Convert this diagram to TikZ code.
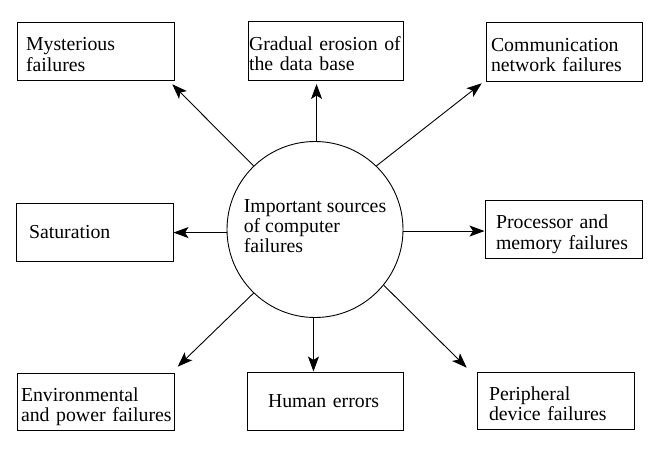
\documentclass[tikz,border=0pt]{standalone}
\usepackage{fontspec}
\setmainfont{Liberation Serif}
\usetikzlibrary{arrows.meta}
\newcommand\tstrut{\rule{0pt}{25pt}}
\newcommand\bstrut{\rule[-5pt]{0pt}{5pt}}
\newcommand\cstrut{\rule[-6.7pt]{0pt}{6.7pt}}
\tikzset{
  bx/.style n args={3}{draw, line width=1pt, rectangle, align=left,
    minimum height=#2, text width=#1, inner xsep=#3, inner ysep=0pt,
    font=\fontsize{19.8}{20.5}\selectfont},
  hub/.style={draw, line width=0.9pt, circle, minimum size=176pt, inner sep=0pt,
    align=left, font=\fontsize{19.8}{20}\selectfont},
  arr/.style={line width=0.9pt, -{Stealth[length=15pt,width=11pt,inset=3.5pt]}}
}
\begin{document}
\begin{tikzpicture}[x=1pt,y=-1pt]
\useasboundingbox (0,0) rectangle (656,450);
\node[hub] (c) at (315,229.5) {Important sources\\of computer\\failures\cstrut};
\node[bx={139pt}{58pt}{9pt}] (m) at (95.5,51) {\mbox{\tstrut Mysterious}\\\mbox{failures\bstrut}};
\node[bx={153pt}{59pt}{1pt}] (g) at (325.5,50.5) {\mbox{\tstrut Gradual erosion of}\\\mbox{the data base\bstrut}};
\node[bx={146pt}{59pt}{5pt}] (cm) at (564,51.5) {\mbox{\tstrut Communication}\\\mbox{network failures\bstrut}};
\node[bx={131pt}{58pt}{13pt}] (s) at (94.5,232) {Saturation};
\node[bx={135pt}{58pt}{11pt}] (p) at (563.5,229) {\mbox{\tstrut Processor and}\\\mbox{memory failures\bstrut}};
\node[bx={149pt}{57pt}{4pt}] (e) at (95.5,401.5) {\mbox{\tstrut Environmental}\\\mbox{and power failures\bstrut}};
\node[bx={114pt}{58pt}{21pt}] (h) at (325,401) {Human errors};
\node[bx={133pt}{57pt}{12pt}] (pe) at (555.5,400.5) {\mbox{\tstrut Peripheral}\\\mbox{device failures\bstrut}};
\coordinate (tm) at (172.3,84.3);
\coordinate (tc) at (481.7,83.3);
\coordinate (te) at (177.7,366.7);
\coordinate (tp) at (466.7,367.7);
\draw[arr] (c.134) -- (tm);
\draw[arr] (c.46) -- (tc);
\draw[arr] (c.226) -- (te);
\draw[arr] (c.321) -- (tp);
\draw[arr, shorten >=3.5pt] (c.89) -- (c.89 |- g.south);
\draw[arr] (c.182) -- (c.182 -| s.east);
\draw[arr] (c.-1) -- (c.-1 -| p.west);
\draw[arr] (c.269) -- (c.269 |- h.north);
\end{tikzpicture}
\end{document}
